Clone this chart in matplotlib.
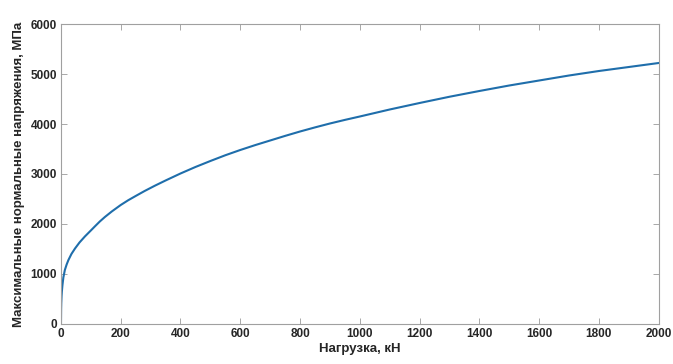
import matplotlib
matplotlib.use("Agg")
from matplotlib import pyplot as plt

# нагрузка, кН и максимальные нормальные напряжения, МПа
nagruzka = [0, 0.5, 1, 2, 3, 5, 8, 13, 19, 25, 35, 47, 62, 80, 100, 114, 130, 147, 170, 200,
            225, 250, 280, 314, 350, 400, 450, 500, 550, 600, 650, 700, 750, 800, 850, 900,
            950, 1000, 1100, 1200, 1300, 1400, 1500, 1600, 1700, 1800, 1900, 2000]
napryazh = [0, 300, 420, 560, 650, 780, 930, 1080, 1190, 1280, 1400, 1510, 1630, 1750, 1870,
            1955, 2050, 2140, 2250, 2380, 2475, 2560, 2660, 2765, 2870, 3010, 3140, 3260,
            3375, 3480, 3578, 3670, 3762, 3850, 3932, 4010, 4082, 4150, 4290, 4420, 4545,
            4660, 4770, 4870, 4970, 5060, 5140, 5220]

xticks = list(range(0, 2001, 200))
yticks = list(range(0, 6001, 1000))

plt.rcParams['font.family'] = ['Liberation Sans', 'DejaVu Sans']

fig = plt.figure(figsize=(6.73, 3.64), dpi=100)
ax = fig.add_axes([0.0906, 0.11, 0.888, 0.824])
ax.plot(nagruzka, napryazh, color='#1f6eab', linewidth=1.5)

ax.set_xlim(0, 2000)
ax.set_ylim(0, 6000)
ax.set_xticks(xticks)
ax.set_yticks(yticks)
ax.tick_params(direction='in', top=True, right=True, length=4, width=0.6,
               color='#9a9a9a', labelsize=8.5, labelcolor='#262626', pad=3)
for lab in ax.get_xticklabels() + ax.get_yticklabels():
    lab.set_fontweight('bold')
for sp in ax.spines.values():
    sp.set_color('#a0a0a0')
    sp.set_linewidth(0.8)

ax.set_xlabel('Нагрузка, кН', fontsize=9.5, fontweight='bold', color='#262626', labelpad=2)
ax.set_ylabel('Максимальные нормальные напряжения, МПа', fontsize=9.5, fontweight='bold',
              color='#262626', labelpad=4)

fig.savefig('out.png', dpi=100)
